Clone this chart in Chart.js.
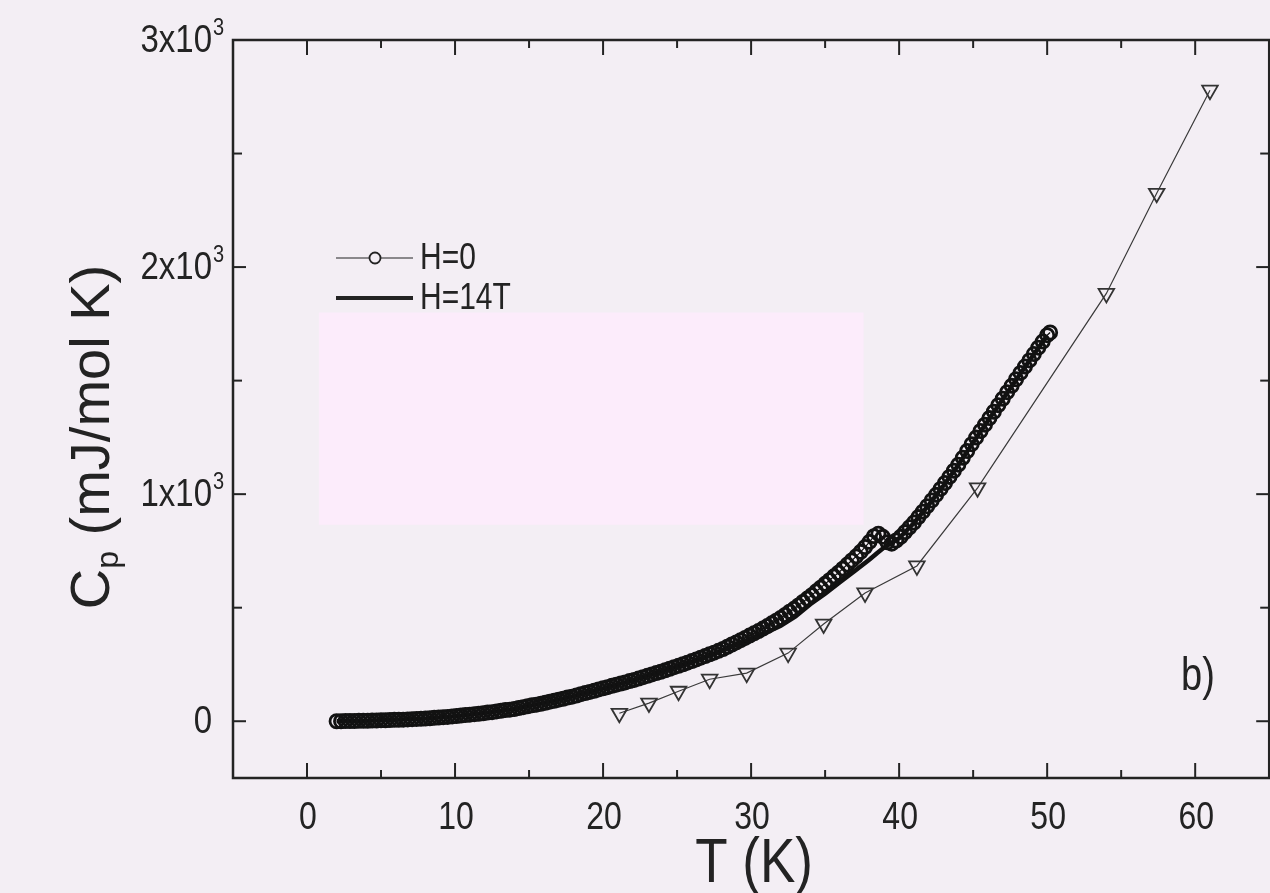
<!DOCTYPE html>
<html>
<head>
<meta charset="utf-8">
<script src="https://cdn.jsdelivr.net/npm/chart.js@4.4.1/dist/chart.umd.min.js"></script>
<style>
  html, body { margin: 0; padding: 0; background: #f3eef4; overflow: hidden; }
  #wrap { position: absolute; left: 0; top: 0; width: 1280px; height: 893px; }
</style>
</head>
<body>
<div id="wrap"><canvas id="cp" width="1280" height="893"></canvas></div>
<script>
// H=0 (open circles)
var tH0 = [2.0,2.3,2.6,2.9,3.2,3.5,3.8,4.1,4.4,4.7,5.0,5.3,5.6,5.9,6.2,6.5,6.8,7.1,7.4,7.7,
  8.0,8.3,8.6,8.9,9.2,9.5,9.8,10.1,10.4,10.7,11.0,11.3,11.6,11.9,12.2,12.5,12.8,13.1,13.4,13.7,
  14.0,14.3,14.6,14.9,15.2,15.5,15.8,16.1,16.4,16.7,17.0,17.3,17.6,17.9,18.2,18.5,18.8,19.1,19.4,19.7,
  20.0,20.3,20.6,20.9,21.2,21.5,21.8,22.1,22.4,22.7,23.0,23.3,23.6,23.9,24.2,24.5,24.8,25.1,25.4,25.7,
  26.0,26.3,26.6,26.9,27.2,27.5,27.8,28.1,28.4,28.7,29.0,29.3,29.6,29.9,30.2,30.5,30.8,31.1,31.4,31.7,
  32.0,32.3,32.6,32.9,33.2,33.5,33.8,34.1,34.4,34.7,35.0,35.3,35.6,35.9,36.2,36.5,36.8,37.1,37.4,37.7,
  38.0,38.3,38.6,38.9,39.2,39.5,39.8,40.1,40.4,40.7,41.0,41.3,41.6,41.9,42.2,42.5,42.8,43.1,43.4,43.7,
  44.0,44.3,44.6,44.9,45.2,45.5,45.8,46.1,46.4,46.7,47.0,47.3,47.6,47.9,48.2,48.5,48.8,49.1,49.4,49.7,
  50.0,50.2];
var cpH0 = [0,0,1,1,1,2,2,2,3,3,4,4,5,6,6,7,8,9,10,11,
  12,13,15,16,18,19,21,23,25,27,29,31,33,35,38,40,43,46,49,51,
  54,58,62,66,70,73,77,81,86,90,95,99,104,108,113,119,124,129,134,140,
  145,150,156,161,166,171,177,182,188,194,200,206,212,218,224,231,238,244,251,258,
  265,272,280,287,295,302,310,318,328,338,347,357,367,377,387,397,408,419,431,443,
  455,468,482,495,510,525,540,555,572,588,605,621,638,654,672,690,708,726,746,767,
  790,815,826,812,788,782,796,812,833,854,875,899,923,947,972,997,1023,1049,1076,1103,
  1130,1160,1190,1220,1249,1278,1306,1335,1363,1392,1420,1449,1477,1506,1534,1562,1589,1617,1645,1672,
  1700,1712];

// H=14T (thick line)
var t14 = [2,4,6,8,10,12,14,16,18,20,22,24,26,28,29,30,31,32,33,34,35,36,37,38,38.5,39,39.5,40,
  41,42,43,44,45,46,47,48,49,50];
var cp14 = [0,2,6,12,22,36,54,80,110,145,180,220,263,310,336,362,390,420,462,515,562,612,662,712,740,766,786,806,
  873,953,1038,1128,1228,1323,1418,1513,1606,1698];

// third set (open down triangles)
var tTri = [21.1,23.1,25.1,27.2,29.7,32.5,34.9,37.7,41.2,45.3,54.0,57.4,61.0];
var cpTri = [35,80,132,185,212,300,428,565,684,1028,1884,2325,2779];

var xTicks = [0,10,20,30,40,50,60];
var xTickLabels = ['0','10','20','30','40','50','60'];
var xMinor = [5,15,25,35,45,55];
var yTicks = [0,1000,2000,3000];
var yTickBase = ['0','1x10','2x10','3x10'];
var yTickExp = ['','3','3','3'];
var yMinor = [500,1500,2500];
var legendLabels = ['H=0','H=14T'];

// pale patch on the scan, in data units
var patchT = [0.8, 37.6];
var patchCp = [865, 1800];

var ink = '#232323';
var font = "'Liberation Sans', Arial, sans-serif";
var stretch = 1.2; // the scan is a bit taller than wide

function pts(xs, ys) {
  return xs.map(function (t, i) { return {x: t, y: ys[i]}; });
}

function tallText(ctx, str, x, y, size, align, base) {
  ctx.save();
  ctx.translate(x, y);
  ctx.scale(1, stretch);
  ctx.font = size + 'px ' + font;
  ctx.textAlign = align;
  ctx.textBaseline = base;
  ctx.fillText(str, 0, 0);
  ctx.restore();
}

var paper = {
  id: 'paper',
  beforeDraw: function (chart) {
    var ctx = chart.ctx, x = chart.scales.x, y = chart.scales.y;
    ctx.save();
    ctx.fillStyle = '#f3eef4';
    ctx.fillRect(0, 0, chart.width, chart.height);
    var x0 = x.getPixelForValue(patchT[0]), x1 = x.getPixelForValue(patchT[1]);
    var y0 = y.getPixelForValue(patchCp[1]), y1 = y.getPixelForValue(patchCp[0]);
    ctx.fillStyle = '#fcecfb';
    ctx.fillRect(x0, y0, x1 - x0, y1 - y0);
    ctx.restore();
  },
  afterDraw: function (chart) {
    var ctx = chart.ctx, x = chart.scales.x, y = chart.scales.y;
    var a = chart.chartArea;
    ctx.save();
    ctx.strokeStyle = ink;
    ctx.fillStyle = ink;
    ctx.lineWidth = 2.5;
    ctx.strokeRect(a.left, a.top, a.right - a.left, a.bottom - a.top);

    function tk(x1, y1, x2, y2) {
      ctx.beginPath(); ctx.moveTo(x1, y1); ctx.lineTo(x2, y2); ctx.stroke();
    }
    ctx.lineWidth = 2;
    xTicks.forEach(function (v, i) {
      var p = x.getPixelForValue(v);
      tk(p, a.bottom, p, a.bottom - 15); tk(p, a.top, p, a.top + 15);
      tallText(ctx, xTickLabels[i], p + 1, a.bottom + 40, 32, 'center', 'middle');
    });
    xMinor.forEach(function (v) {
      var p = x.getPixelForValue(v);
      tk(p, a.bottom, p, a.bottom - 8); tk(p, a.top, p, a.top + 8);
    });
    yTicks.forEach(function (v, i) {
      var p = y.getPixelForValue(v);
      tk(a.left, p, a.left + 13, p); tk(a.right, p, a.right - 13, p);
      tallText(ctx, yTickBase[i], a.left - 21, p + 1, 33, 'right', 'middle');
      if (yTickExp[i]) tallText(ctx, yTickExp[i], a.left - 20, p - 12, 20, 'left', 'middle');
    });
    yMinor.forEach(function (v) {
      var p = y.getPixelForValue(v);
      tk(a.left, p, a.left + 9, p); tk(a.right, p, a.right - 9, p);
    });

    // x title
    tallText(ctx, 'T (K)', (a.left + a.right) / 2 + 3, 882, 53, 'center', 'alphabetic');

    // legend
    ctx.lineWidth = 1.2;
    tk(336, 258, 413, 258);
    ctx.fillStyle = '#f3eef4';
    ctx.beginPath(); ctx.arc(375, 258, 5.5, 0, Math.PI * 2); ctx.fill();
    ctx.lineWidth = 1.8;
    ctx.stroke();
    ctx.lineWidth = 4;
    tk(336, 298, 413, 298);
    ctx.fillStyle = ink;
    tallText(ctx, legendLabels[0], 420, 259, 30, 'left', 'middle');
    tallText(ctx, legendLabels[1], 420, 299, 30, 'left', 'middle');

    // panel label
    tallText(ctx, 'b)', 1181, 677, 38, 'left', 'middle');

    // y title with subscript
    ctx.translate(89, 437);
    ctx.rotate(-Math.PI / 2);
    ctx.textAlign = 'left';
    ctx.textBaseline = 'alphabetic';
    var big = '56px ' + font, small = '32px ' + font;
    ctx.font = big;
    var w1 = ctx.measureText('C').width;
    ctx.font = small;
    var w2 = ctx.measureText('p').width;
    ctx.font = big;
    var w3 = ctx.measureText(' (mJ/mol K)').width;
    var sx = -(w1 + w2 + w3) / 2;
    ctx.fillText('C', sx, 20);
    ctx.font = small;
    ctx.fillText('p', sx + w1, 29);
    ctx.font = big;
    ctx.fillText(' (mJ/mol K)', sx + w1 + w2, 20);
    ctx.restore();
  }
};

new Chart(document.getElementById('cp'), {
  type: 'scatter',
  data: {
    datasets: [
      {
        label: legendLabels[0],
        data: pts(tH0, cpH0),
        showLine: true,
        borderColor: '#111',
        borderWidth: 1.2,
        pointStyle: 'circle',
        pointRadius: 6.6,
        pointBorderWidth: 2.8,
        pointBorderColor: '#121212',
        pointBackgroundColor: 'rgba(0,0,0,0)',
        order: 1
      },
      {
        label: legendLabels[1],
        data: pts(t14, cp14),
        showLine: true,
        borderColor: '#111',
        borderWidth: 4.5,
        pointRadius: 0,
        order: 2
      },
      {
        label: 'tri',
        data: pts(tTri, cpTri),
        showLine: true,
        borderColor: '#3a3a3a',
        borderWidth: 1.2,
        pointStyle: 'triangle',
        pointRotation: 180,
        pointRadius: 9,
        pointBorderWidth: 1.8,
        pointBorderColor: '#333',
        pointBackgroundColor: 'rgba(0,0,0,0)',
        order: 3
      }
    ]
  },
  options: {
    responsive: false,
    animation: false,
    devicePixelRatio: 1,
    layout: { padding: { left: 0, right: 4, top: 40, bottom: 0 } },
    plugins: { legend: { display: false }, tooltip: { enabled: false } },
    scales: {
      x: {
        type: 'linear',
        min: -5, max: 65,
        afterFit: function (s) { s.height = 115; },
        grid: { display: false, drawTicks: false },
        border: { display: false },
        ticks: { display: false }
      },
      y: {
        type: 'linear',
        min: -250, max: 3000,
        afterFit: function (s) { s.width = 233; },
        grid: { display: false, drawTicks: false },
        border: { display: false },
        ticks: { display: false }
      }
    }
  },
  plugins: [paper]
});
</script>
</body>
</html>
